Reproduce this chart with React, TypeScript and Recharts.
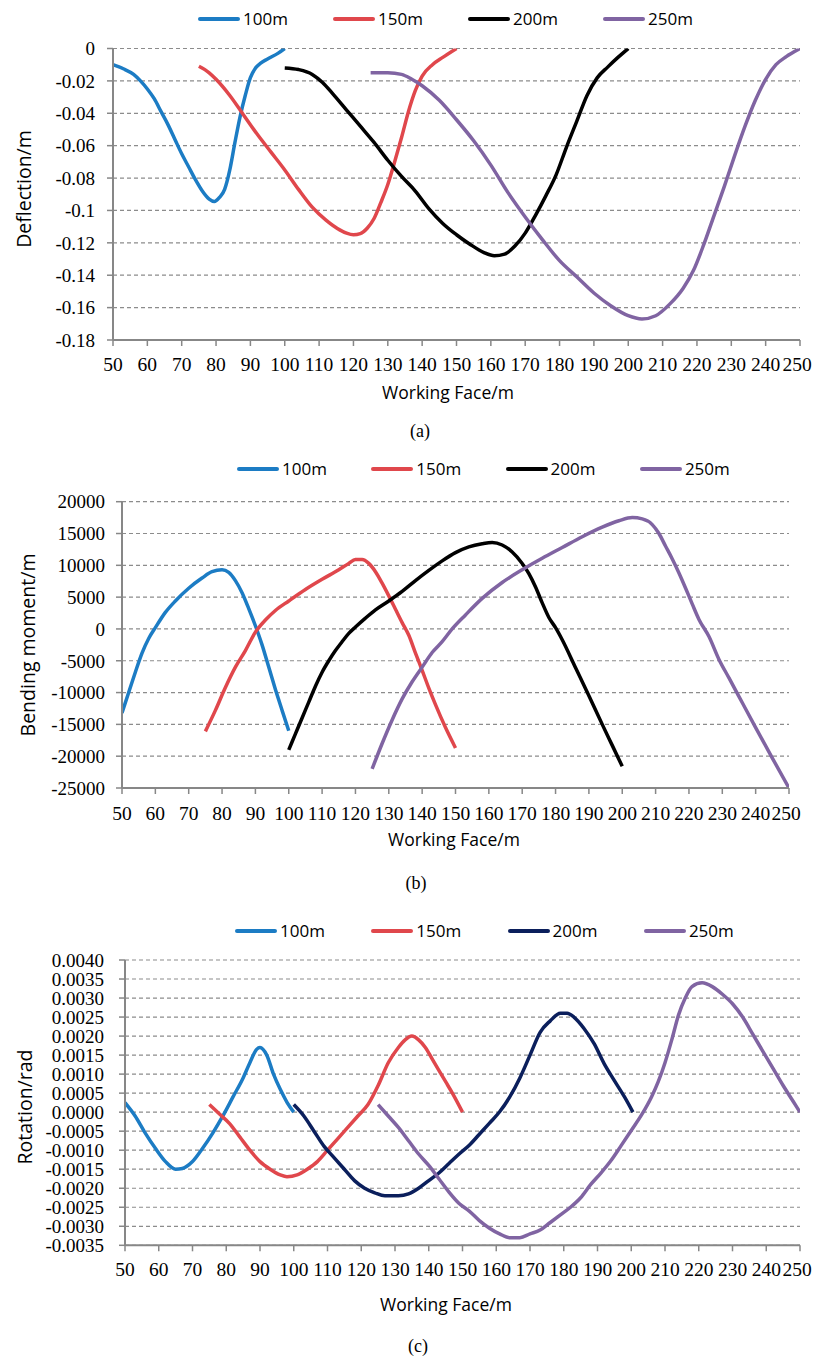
import React from 'react';
import { LineChart, Line, XAxis, YAxis, CartesianGrid, Label } from 'recharts';

// ---------- shared ----------
const xTicks = [50, 60, 70, 80, 90, 100, 110, 120, 130, 140, 150, 160, 170, 180, 190, 200, 210, 220, 230, 240, 250];
const seriesNames = ['100m', '150m', '200m', '250m'];
const colorsAB = ['#1C7CC4', '#E0474C', '#000000', '#8064A2'];
const colorsC = ['#1C7CC4', '#E0474C', '#0B1F5C', '#8064A2'];

// ---------- (a) deflection ----------
const deflectionTicks = [0, -0.02, -0.04, -0.06, -0.08, -0.1, -0.12, -0.14, -0.16, -0.18];
const deflection100: [number, number][] = [
  [50, -0.010], [53, -0.0125], [56, -0.016], [58, -0.020], [60, -0.025], [62, -0.031], [64, -0.039],
  [66, -0.047], [68, -0.056], [70, -0.065], [72, -0.073], [74, -0.081], [76, -0.088], [78, -0.093],
  [79.5, -0.0945], [81, -0.092], [82.5, -0.087], [84, -0.075], [85.5, -0.058], [87, -0.042],
  [88.5, -0.029], [90, -0.018], [91.5, -0.012], [93, -0.009], [95, -0.0065], [98, -0.003], [100, 0],
];
const deflection150: [number, number][] = [
  [75, -0.011], [78, -0.015], [80, -0.019], [84, -0.029], [88, -0.041], [92, -0.053], [96, -0.064],
  [100, -0.075], [104, -0.087], [108, -0.098], [112, -0.106], [116, -0.112], [118, -0.114], [120, -0.115],
  [122, -0.1143], [124, -0.111], [126, -0.105], [128, -0.095], [130, -0.084], [132, -0.070], [134, -0.055],
  [136, -0.039], [138, -0.026], [140, -0.017], [143, -0.010], [146, -0.0055], [150, 0],
];
const deflection200: [number, number][] = [
  [100, -0.012], [104, -0.013], [108, -0.016], [111, -0.021], [114, -0.028], [118, -0.038], [122, -0.048],
  [126, -0.058], [130, -0.069], [134, -0.079], [138, -0.088], [142, -0.099], [146, -0.108], [150, -0.115],
  [154, -0.121], [158, -0.126], [161, -0.128], [164, -0.127], [167, -0.122], [170, -0.114], [173, -0.103],
  [176, -0.091], [179, -0.078], [182, -0.061], [185, -0.045], [188, -0.029], [191, -0.018], [194, -0.0115],
  [197, -0.0055], [200, 0],
];
const deflection250: [number, number][] = [
  [125, -0.015], [130, -0.015], [134, -0.016], [137, -0.019], [140, -0.023], [145, -0.032], [150, -0.044],
  [155, -0.057], [160, -0.072], [165, -0.089], [170, -0.104], [175, -0.118], [180, -0.131], [185, -0.141],
  [190, -0.151], [195, -0.159], [200, -0.165], [204, -0.167], [208, -0.165], [212, -0.158], [216, -0.148],
  [219, -0.137], [222, -0.121], [225, -0.103], [228, -0.085], [231, -0.066], [234, -0.048], [237, -0.032],
  [240, -0.019], [243, -0.010], [246, -0.005], [250, 0],
];

// ---------- (b) bending moment ----------
const bendingTicks = [20000, 15000, 10000, 5000, 0, -5000, -10000, -15000, -20000, -25000];
const bending100: [number, number][] = [
  [50, -13200], [52, -10000], [54, -6800], [56, -3800], [58, -1500], [60, 200], [63, 2600], [66, 4400],
  [70, 6400], [74, 8000], [77, 9000], [80, 9300], [82, 8900], [84, 7600], [86, 5700], [88, 3200],
  [90, 500], [92, -2500], [94, -6000], [96, -9500], [98, -12800], [100, -16000],
];
const bending150: [number, number][] = [
  [75, -16100], [78, -12800], [81, -9200], [84, -6000], [87, -3400], [90, -500], [93, 1400], [96, 2900],
  [100, 4400], [105, 6200], [110, 7800], [115, 9300], [118, 10300], [120, 10900], [122, 10900], [124, 10300],
  [126, 9000], [128, 7200], [130, 5200], [132, 3100], [134, 1000], [136, -1000], [138, -3800], [140, -6500],
  [142, -9300], [144, -11900], [147, -15500], [150, -18700],
];
const bending200: [number, number][] = [
  [100, -19000], [102, -16500], [104, -14000], [106, -11500], [108, -9000], [110, -6800], [112, -5000],
  [114, -3400], [116, -2000], [118, -700], [120, 300], [123, 1700], [126, 3000], [130, 4400], [134, 5900],
  [138, 7600], [142, 9200], [146, 10700], [150, 12000], [154, 12900], [158, 13400], [161, 13600],
  [164, 13200], [167, 12100], [170, 10300], [172, 8700], [174, 6600], [176, 4100], [178, 1800], [180, 200],
  [182, -1700], [186, -6100], [190, -10500], [194, -15000], [197, -18300], [200, -21600],
];
const bending250: [number, number][] = [
  [125, -22000], [128, -18000], [131, -14300], [134, -11000], [137, -8300], [140, -6000], [143, -3700],
  [146, -2000], [149, 0], [153, 2200], [158, 4800], [164, 7300], [170, 9300], [176, 11100], [182, 12800],
  [188, 14500], [194, 16000], [199, 17000], [203, 17500], [206, 17300], [209, 16400], [211, 15000],
  [213, 13000], [215, 11000], [217, 8800], [219, 6400], [221, 3900], [223, 1500], [226, -1200],
  [229, -4800], [232, -7700], [236, -11600], [240, -15500], [245, -20300], [250, -25000],
];

// ---------- (c) rotation ----------
const rotationTicks = [0.004, 0.0035, 0.003, 0.0025, 0.002, 0.0015, 0.001, 0.0005, 0, -0.0005, -0.001, -0.0015, -0.002, -0.0025, -0.003, -0.0035];
const rotation100: [number, number][] = [
  [50, 0.00025], [53, -0.0001], [56, -0.00055], [59, -0.00095], [62, -0.0013], [65, -0.0015], [67, -0.00148],
  [70, -0.0013], [73, -0.00095], [76, -0.00055], [79, -0.0001], [82, 0.0004], [85, 0.0009], [87, 0.0013],
  [89, 0.00165], [90, 0.0017], [92, 0.0015], [94, 0.001], [96, 0.0006], [98, 0.00026], [100, 0],
];
const rotation150: [number, number][] = [
  [75, 0.0002], [78, -0.00005], [81, -0.0003], [84, -0.00065], [87, -0.001], [90, -0.0013], [93, -0.0015],
  [96, -0.00165], [98, -0.0017], [101, -0.00165], [104, -0.0015], [107, -0.0013], [110, -0.001],
  [113, -0.0007], [116, -0.0004], [119, -0.0001], [122, 0.0002], [125, 0.0007], [128, 0.0013], [131, 0.0017],
  [133, 0.0019], [135, 0.002], [137, 0.0019], [139, 0.0017], [141, 0.0014], [143, 0.0011], [145, 0.0008],
  [147, 0.0005], [150, 0],
];
const rotation200: [number, number][] = [
  [100, 0.0002], [103, -0.0001], [106, -0.0005], [109, -0.0009], [112, -0.0012], [115, -0.0015], [118, -0.0018],
  [121, -0.002], [124, -0.00212], [127, -0.0022], [131, -0.0022], [134, -0.00215], [137, -0.002],
  [140, -0.0018], [143, -0.0016], [146, -0.00135], [149, -0.0011], [152, -0.00087], [155, -0.00058],
  [158, -0.00029], [161, 0.00001], [164, 0.0004], [167, 0.0009], [170, 0.0015], [173, 0.0021], [176, 0.0024],
  [179, 0.0026], [181, 0.0026], [183, 0.0025], [186, 0.0022], [189, 0.0018], [192, 0.00127], [195, 0.00083],
  [198, 0.0004], [200.5, 0],
];
const rotation250: [number, number][] = [
  [125, 0.0002], [128, -0.0001], [131, -0.0004], [134, -0.00075], [137, -0.0011], [140, -0.0014],
  [143, -0.00175], [146, -0.0021], [149, -0.0024], [152, -0.0026], [155, -0.00285], [158, -0.00305],
  [161, -0.0032], [164, -0.0033], [167, -0.0033], [170, -0.0032], [173, -0.0031], [176, -0.0029],
  [179, -0.0027], [182, -0.0025], [185, -0.00225], [188, -0.0019], [191, -0.0016], [194, -0.00127],
  [197, -0.00088], [200, -0.00048], [203, -0.00008], [206, 0.0004], [208, 0.0008], [210, 0.0013],
  [212, 0.0019], [214, 0.00255], [216, 0.003], [218, 0.0033], [221, 0.0034], [224, 0.0033], [227, 0.0031],
  [230, 0.00285], [233, 0.0025], [236, 0.00205], [239, 0.0016], [242, 0.00115], [245, 0.0007],
  [248, 0.00028], [250, 0],
];

const toPts = (arr: [number, number][]) => arr.map(([x, y]) => ({ x, y }));

const AXIS = '#878787';
const SERIF = 'Liberation Serif, DejaVu Serif, serif';
const SANS = 'Open Sans, Noto Sans, sans-serif';

function XTick(props: any) {
  const { x, y, payload } = props;
  const v = payload.value;
  // keep the last label inside the page
  const shift = v === 250 ? -3 : 0;
  return (
    <text
      x={x + shift}
      y={y}
      dy="0.71em"
      textAnchor="middle"
      style={{ fontFamily: SERIF, fontSize: '19.5px', fill: '#000' }}
    >
      {String(v)}
    </text>
  );
}

function makeYTick(fmt: (v: number) => string) {
  return function YTick(props: any) {
    const { x, y, payload } = props;
    return (
      <text x={x} y={y} dy="0.355em" textAnchor="end" style={{ fontFamily: SERIF, fontSize: '19px', fill: '#000' }}>
        {fmt(payload.value)}
      </text>
    );
  };
}

type PanelProps = {
  top: number;
  height: number;
  margin: { top: number; right: number; left: number; bottom: number };
  yWidth: number;
  xHeight: number;
  yDomain: [number, number];
  yTicks: number[];
  yFmt: (v: number) => string;
  series: [number, number][][];
  colors: string[];
  yTitle: string;
  yTitleX: number;
  yTitleY: number;
  xTitleX: number;
  xTitleY: number;
  xTickMargin: number;
  yTickMargin: number;
};

function Panel(p: PanelProps) {
  const YTick = makeYTick(p.yFmt);
  return (
    <div style={{ position: 'absolute', left: 0, top: p.top, width: 813, height: p.height }}>
      <LineChart width={813} height={p.height} margin={p.margin}>
        <CartesianGrid vertical={false} stroke="#8c8c8c" strokeDasharray="4 3" strokeWidth={1.2} />
        <XAxis
          type="number"
          dataKey="x"
          domain={[50, 250]}
          ticks={xTicks}
          interval={0}
          height={p.xHeight}
          allowDataOverflow
          axisLine={{ stroke: AXIS, strokeWidth: 2 }}
          tickLine={{ stroke: AXIS, strokeWidth: 1.5 }}
          tickSize={6}
          tickMargin={p.xTickMargin}
          tick={(tp: any) => <XTick {...tp} />}
        >
          <Label
            content={() => (
              <text
                x={p.xTitleX}
                y={p.xTitleY}
                textAnchor="middle"
                style={{ fontFamily: SANS, fontSize: '17.5px', fill: '#000' }}
              >
                Working Face/m
              </text>
            )}
          />
        </XAxis>
        <YAxis
          type="number"
          domain={p.yDomain}
          ticks={p.yTicks}
          interval={0}
          width={p.yWidth}
          allowDataOverflow
          axisLine={{ stroke: AXIS, strokeWidth: 2 }}
          tickLine={{ stroke: AXIS, strokeWidth: 1.5 }}
          tickSize={6}
          tickMargin={p.yTickMargin}
          tick={(tp: any) => <YTick {...tp} />}
        >
          <Label
            content={() => (
              <text
                x={p.yTitleX}
                y={p.yTitleY}
                transform={`rotate(-90 ${p.yTitleX} ${p.yTitleY})`}
                textAnchor="middle"
                style={{ fontFamily: SANS, fontSize: '19.5px', fill: '#000' }}
              >
                {p.yTitle}
              </text>
            )}
          />
        </YAxis>
        {p.series.map((s, i) => (
          <Line
            key={seriesNames[i]}
            data={toPts(s)}
            dataKey="y"
            name={seriesNames[i]}
            type="monotone"
            stroke={p.colors[i]}
            strokeWidth={3.5}
            dot={false}
            activeDot={false}
            isAnimationActive={false}
          />
        ))}
      </LineChart>
    </div>
  );
}

function LegendRow({ top, left, step, colors }: { top: number; left: number; step: number; colors: string[] }) {
  return (
    <div style={{ position: 'absolute', top, left: 0, width: 813, height: 24 }}>
      {seriesNames.map((lab, i) => (
        <div
          key={lab}
          style={{ position: 'absolute', left: left + i * step, top: 0, height: 24, display: 'flex', alignItems: 'center' }}
        >
          <div style={{ width: 42, height: 4, background: colors[i], borderRadius: 2 }} />
          <span style={{ marginLeft: 3, fontFamily: SANS, fontSize: 17, lineHeight: '24px', color: '#000' }}>{lab}</span>
        </div>
      ))}
    </div>
  );
}

function Caption({ text, cx, baseline }: { text: string; cx: number; baseline: number }) {
  return (
    <div
      style={{
        position: 'absolute',
        left: cx - 30,
        width: 60,
        top: baseline - 16,
        textAlign: 'center',
        fontFamily: SERIF,
        fontSize: 18,
        lineHeight: '20px',
        color: '#000',
      }}
    >
      {text}
    </div>
  );
}

const fmtPlain = (v: number) => String(v);
const fmt4 = (v: number) => v.toFixed(4);

export default function App() {
  return (
    <div style={{ position: 'absolute', left: 0, top: 0, width: 813, height: 1360, background: '#fff' }}>
      {/* (a) */}
      <Panel
        top={0}
        height={410}
        margin={{ top: 48.5, right: 13, left: 0, bottom: 0 }}
        yWidth={113}
        xHeight={70}
        yDomain={[-0.18, 0]}
        yTicks={deflectionTicks}
        yFmt={fmtPlain}
        series={[deflection100, deflection150, deflection200, deflection250]}
        colors={colorsAB}
        yTitle="Deflection/m"
        yTitleX={30.5}
        yTitleY={189}
        xTitleX={448}
        xTitleY={399}
        xTickMargin={11}
        yTickMargin={12}
      />
      <LegendRow top={7} left={198} step={135} colors={colorsAB} />
      <Caption text="(a)" cx={420} baseline={437} />

      {/* (b) */}
      <Panel
        top={440}
        height={420}
        margin={{ top: 61.7, right: 24, left: 0, bottom: 0 }}
        yWidth={122}
        xHeight={72}
        yDomain={[-25000, 20000]}
        yTicks={bendingTicks}
        yFmt={fmtPlain}
        series={[bending100, bending150, bending200, bending250]}
        colors={colorsAB}
        yTitle="Bending moment/m"
        yTitleX={35}
        yTitleY={205}
        xTitleX={454}
        xTitleY={406}
        xTickMargin={12}
        yTickMargin={11}
      />
      <LegendRow top={457} left={237} step={134.3} colors={colorsAB} />
      <Caption text="(b)" cx={416} baseline={889} />

      {/* (c) */}
      <Panel
        top={900}
        height={420}
        margin={{ top: 60, right: 13, left: 0, bottom: 0 }}
        yWidth={125}
        xHeight={74.7}
        yDomain={[-0.0035, 0.004]}
        yTicks={rotationTicks}
        yFmt={fmt4}
        series={[rotation100, rotation150, rotation200, rotation250]}
        colors={colorsC}
        yTitle="Rotation/rad"
        yTitleX={31.5}
        yTitleY={207}
        xTitleX={446}
        xTitleY={410.5}
        xTickMargin={11}
        yTickMargin={15}
      />
      <LegendRow top={919} left={235} step={136.3} colors={colorsC} />
      <Caption text="(c)" cx={418} baseline={1352} />
    </div>
  );
}
